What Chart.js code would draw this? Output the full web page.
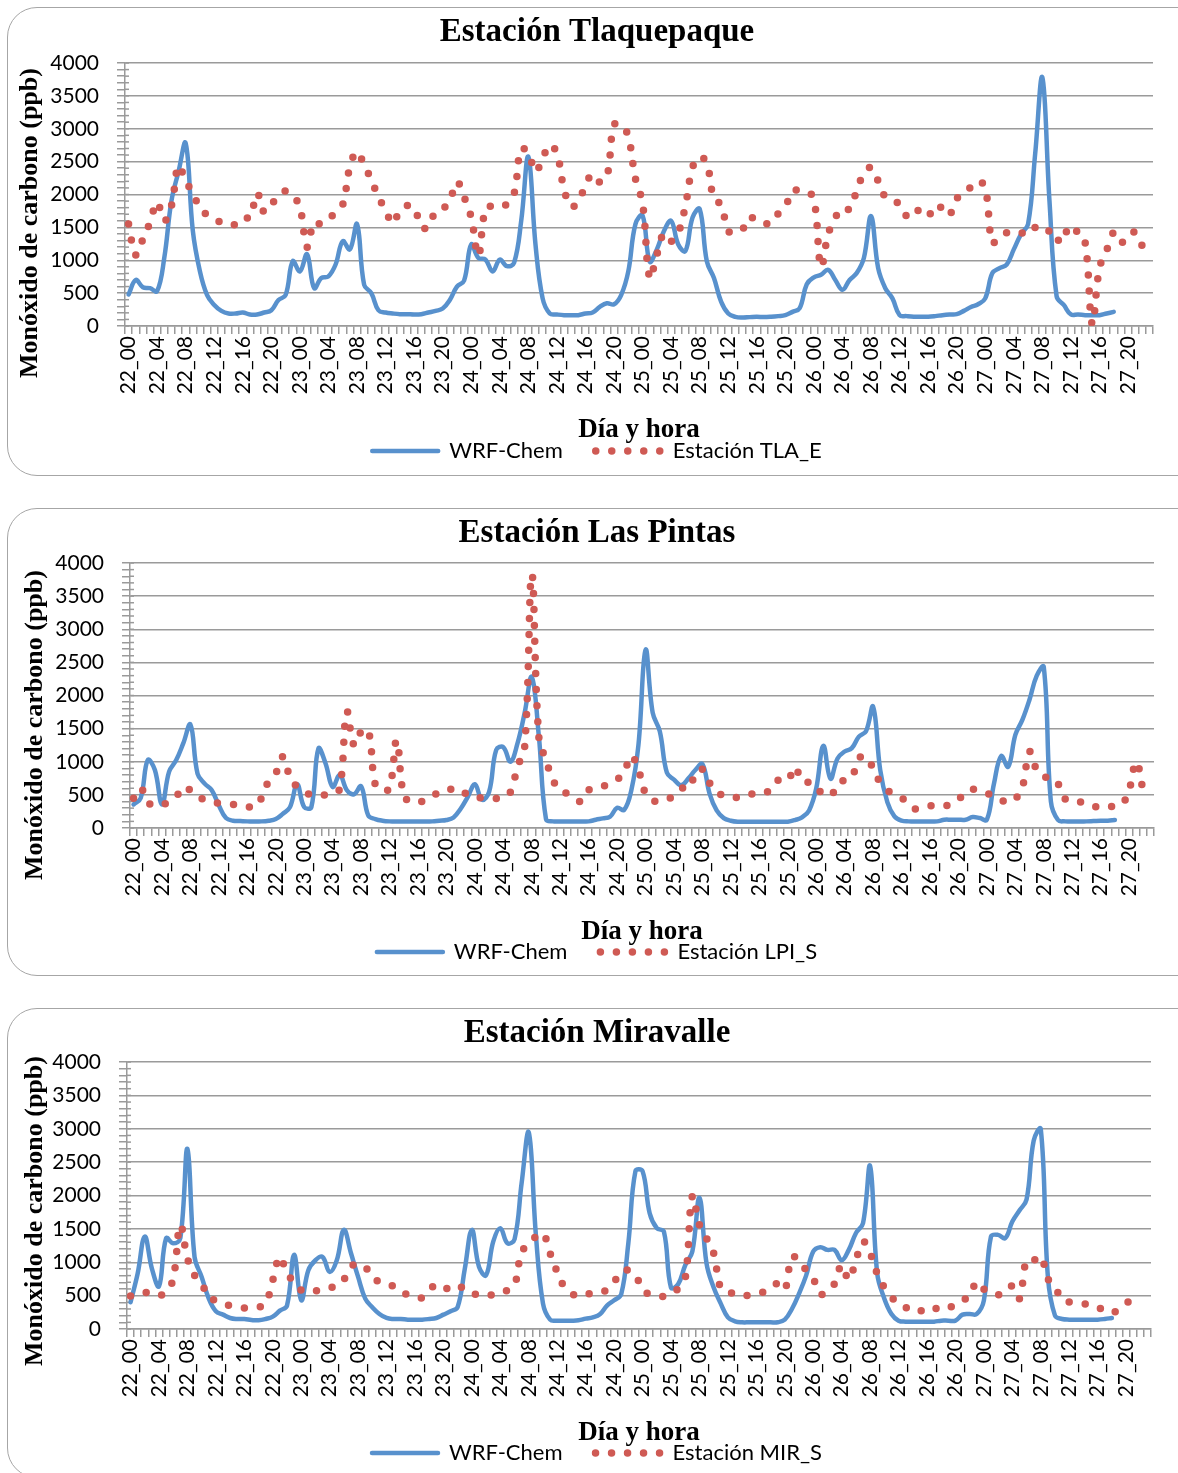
<!DOCTYPE html>
<html>
<head>
<meta charset="utf-8">
<script src="https://cdn.jsdelivr.net/npm/chart.js@4.4.1/dist/chart.umd.min.js"></script>
<style>
  body { margin: 0; background: #fff; width: 1178px; height: 1473px; overflow: hidden; position: relative; }
  .panel { position: absolute; left: 7px; width: 1210px; box-sizing: border-box; border: 1.5px solid #a6a6a6; border-radius: 30px; }
  .wrap { position: absolute; left: 8px; }
</style>
</head>
<body>
<div class="panel" style="top:7px;height:469px"></div>
<div class="panel" style="top:508px;height:468px"></div>
<div class="panel" style="top:1008px;height:470px"></div>
<div class="wrap" style="top:8px"><canvas id="c1" width="1178" height="466"></canvas></div>
<div class="wrap" style="top:509px"><canvas id="c2" width="1178" height="466"></canvas></div>
<div class="wrap" style="top:1009px"><canvas id="c3" width="1178" height="466"></canvas></div>
<script>
// categories: day_hour, 22_00 .. 27_23
var days = ['22', '23', '24', '25', '26', '27'];
var hours = ['00','01','02','03','04','05','06','07','08','09','10','11','12','13','14','15','16','17','18','19','20','21','22','23'];
var categories = [];
days.forEach(function (d) { hours.forEach(function (h) { categories.push(d + '_' + h); }); });

var yTicks = [0, 500, 1000, 1500, 2000, 2500, 3000, 3500, 4000];

// Estación Tlaquepaque
var tlaWrf = [480,700,590,575,530,1035,1900,2350,2780,1450,830,470,320,230,190,190,205,175,175,205,240,395,470,985,
  830,1090,575,730,755,935,1290,1165,1550,625,500,240,205,190,180,180,175,180,205,230,265,395,600,690,
  1240,1035,1010,830,1010,910,960,1600,2575,1240,420,190,175,165,165,165,190,205,290,345,330,470,830,1550,
  1680,980,1165,1445,1600,1240,1140,1650,1780,985,730,370,190,140,130,135,140,135,140,150,165,215,270,635,
  740,780,855,700,550,700,805,1035,1670,880,575,420,165,150,140,140,140,150,165,175,180,230,290,330,
  420,805,880,935,1165,1395,1550,2625,3780,1900,450,320,175,175,165,165,165,190,215];
var tlaSta = [1550,1080,1320,1575,1880,1600,1825,2435,2205,2020,1795,1690,1615,1580,1535,1550,1655,1645,2020,1730,1855,1960,2055,1985,
  1805,1200,1580,1550,1625,1730,1845,2420,2650,2445,2225,1960,1765,1560,1755,1830,1805,1510,1500,1745,1780,1910,2190,1960,
  1650,1070,1785,1830,1865,1845,2010,2700,2625,2345,2550,2755,2625,2085,1815,1895,2140,2310,2190,2265,3060,3060,2880,2240,
  1865,730,1085,1405,1290,1420,1830,2410,2575,2470,1935,1845,1445,1420,1470,1660,1590,1560,1565,1710,1815,2060,2055,2045,
  1935,905,1395,1650,1795,1780,2060,2320,2410,2205,1960,1900,1855,1670,1660,1805,1730,1675,1825,1700,1935,2020,2115,2210,
  2100,1265,1370,1420,1445,1420,1395,1500,1520,1435,1280,1470,1345,1445,1265,25,880,1150,1420,1265,1395,1420,1215];

// Estación Las Pintas
var lpiWrf = [355,450,1025,875,355,850,1025,1280,1560,820,670,570,340,150,110,105,100,100,100,110,135,215,315,660,
  315,315,1200,975,620,800,570,510,630,190,135,110,100,100,100,100,100,100,100,110,120,160,290,470,
  660,425,545,1180,1220,1000,1280,1740,2280,1380,135,100,100,100,100,100,100,125,145,170,305,275,570,1255,
  2690,1740,1460,835,730,645,745,875,965,520,265,150,110,95,95,95,95,95,95,95,95,120,160,265,
  595,1240,745,1050,1155,1205,1380,1460,1830,875,390,175,110,100,100,100,100,100,125,125,125,125,165,150,
  125,670,1085,925,1405,1635,1940,2295,2430,400,120,100,100,100,100,105,110,110,120];
var lpiSta = [450,605,380,355,340,415,475,620,570,480,425,390,375,365,355,340,325,315,455,710,825,1075,770,620,
  545,500,490,500,510,600,1750,1250,1450,1480,650,570,600,1320,480,405,380,425,475,545,575,585,585,495,
  465,455,450,445,465,545,925,1225,3830,1365,1025,720,570,520,455,400,570,610,630,680,730,850,1090,875,
  520,410,415,425,495,570,745,720,885,680,545,490,470,460,495,515,525,535,680,730,715,920,710,685,
  645,490,520,570,745,770,1050,1075,900,685,570,510,455,365,285,315,335,335,330,365,430,545,585,555,
  520,485,425,385,440,620,1150,875,770,770,670,440,395,395,365,325,320,315,335,360,570,1000,545];

// Estación Miravalle
var mirWrf = [400,830,1385,905,640,1360,1285,1360,2700,1080,780,455,265,215,165,150,150,135,130,150,185,275,350,1110,
  430,880,1030,1080,855,1030,1485,1135,780,455,325,225,165,150,150,140,140,140,150,165,215,265,330,900,
  1485,930,805,1310,1510,1285,1345,2190,2945,1410,380,140,125,125,125,130,155,175,220,350,430,520,1285,2365,
  2365,1735,1510,1460,620,670,955,1160,1965,980,620,380,175,115,100,100,100,100,100,100,140,300,530,800,
  1160,1225,1185,1185,1030,1185,1435,1585,2440,830,455,225,125,110,110,110,110,110,125,125,125,215,225,225,
  430,1385,1410,1360,1610,1775,1940,2820,2995,780,200,150,140,140,140,140,140,150,165];
var mirSta = [495,520,550,520,500,555,755,1555,1060,805,680,470,430,380,350,325,315,310,325,380,730,1080,830,705,
  580,550,570,590,620,640,740,930,980,930,780,705,665,640,580,505,480,470,580,665,605,620,660,580,
  525,520,505,515,530,580,655,1160,1260,1385,1435,1135,855,630,530,495,520,540,565,580,705,855,880,805,
  590,520,500,490,530,605,755,1990,1560,1360,1135,605,565,520,500,505,530,555,615,680,590,1080,1030,880,
  755,520,580,680,955,740,1030,1310,1135,830,620,480,380,325,265,265,325,315,285,315,365,430,495,705,
  595,550,510,605,640,455,1030,1030,1090,755,630,440,405,390,380,360,325,275,240,300,380,480];

var blue = '#5891cd';
var red = '#cf5a54';
var gridColor = '#9a9a9a';
var sans = 'Lato';
var serif = 'Liberation Serif';

var axisExtras = {
  id: 'axisExtras',
  beforeDatasetsDraw: function (chart) {
    var y = chart.scales.y, ctx = chart.ctx;
    ctx.save();
    ctx.strokeStyle = gridColor;
    ctx.lineWidth = 1.5;
    for (var v = 0; v <= 4000; v += 100) {
      var py = y.getPixelForValue(v);
      ctx.beginPath();
      ctx.moveTo(y.right, py);
      ctx.lineTo(y.right + 4, py);
      ctx.stroke();
    }
    ctx.restore();
  },
  afterDraw: function (chart, args, opts) {
    var ctx = chart.ctx;
    ctx.save();
    ctx.translate(opts.x, opts.y);
    ctx.rotate(-Math.PI / 2);
    ctx.font = 'bold 26px "' + serif + '"';
    ctx.fillStyle = '#000';
    ctx.textAlign = 'center';
    ctx.textBaseline = 'middle';
    ctx.fillText(opts.text, 0, 0);
    ctx.restore();
  }
};

// legend markers take the line style of their dataset
function legendLabels(chart) {
  var items = Chart.defaults.plugins.legend.labels.generateLabels(chart);
  items.forEach(function (it) {
    var ds = chart.data.datasets[it.datasetIndex];
    it.strokeStyle = ds.borderColor;
    it.lineWidth = ds.borderWidth;
    it.lineDash = ds.borderDash || [];
    it.lineCap = 'round';
    it.pointStyle = 'line';
  });
  return items;
}

function makeChart(id, g) {
  return new Chart(document.getElementById(id), {
    type: 'line',
    data: {
      labels: categories,
      datasets: [{
        label: 'WRF-Chem',
        data: g.wrf,
        borderColor: blue,
        backgroundColor: blue,
        borderWidth: 4.5,
        borderCapStyle: 'round',
        borderJoinStyle: 'round',
        pointRadius: 0,
        tension: 0.4,
        order: 1
      }, {
        label: g.station,
        data: g.sta,
        borderColor: red,
        backgroundColor: red,
        borderWidth: 7.5,
        borderDash: [0, 16],
        borderCapStyle: 'round',
        pointRadius: 0,
        tension: 0.4,
        order: 0
      }]
    },
    options: {
      responsive: false,
      animation: false,
      events: [],
      devicePixelRatio: 1,
      layout: { padding: { left: 0, right: 0, top: 0, bottom: g.padBottom } },
      plugins: {
        tooltip: { enabled: false },
        title: {
          display: true,
          text: g.title,
          color: '#000',
          font: { family: serif, size: 33, weight: 'bold' },
          padding: { top: 4.2, bottom: g.plotTop - 43.8 }
        },
        legend: {
          position: 'bottom',
          labels: {
            usePointStyle: true,
            pointStyle: 'line',
            pointStyleWidth: 66,
            padding: 33,
            color: '#000',
            font: { family: sans, size: 22 },
            generateLabels: legendLabels,
            sort: function (a, b) { return a.datasetIndex - b.datasetIndex; }
          }
        },
        axisExtras: { text: 'Monóxido de carbono (ppb)', x: g.yTitleX, y: g.yTitleY }
      },
      scales: {
        x: {
          type: 'category',
          offset: true,
          grid: { display: true, drawOnChartArea: false, drawTicks: true, tickLength: 8, color: gridColor, lineWidth: 1.5, offset: true },
          border: { display: true, color: gridColor, width: 1.5 },
          ticks: {
            autoSkip: false,
            minRotation: 90,
            maxRotation: 90,
            padding: 2,
            color: '#000',
            font: { family: sans, size: 21 },
            callback: function (val, idx) { return idx % 4 === 0 ? categories[idx] : ''; }
          },
          title: {
            display: true,
            text: 'Día y hora',
            color: '#000',
            font: { family: serif, size: 27, weight: 'bold' },
            padding: { top: 0, bottom: g.xTitlePad }
          },
          afterFit: function (s) { s.height = g.xHeight; }
        },
        y: {
          min: 0,
          max: 4000,
          grid: {
            color: function (c) { return c.tick && c.tick.value % 500 === 0 ? gridColor : 'rgba(0,0,0,0)'; },
            tickColor: gridColor,
            lineWidth: 1.5,
            tickLength: 8
          },
          border: { display: true, color: gridColor, width: 1.5 },
          ticks: {
            stepSize: 100,
            autoSkip: false,
            padding: 18,
            color: '#000',
            font: { family: sans, size: 21 },
            callback: function (v) { return yTicks.indexOf(v) >= 0 ? String(v) : ''; }
          },
          afterFit: function (s) { s.width = g.plotLeft; }
        },
        yRight: {
          position: 'right',
          display: true,
          grid: { display: false, drawTicks: false },
          border: { display: false },
          ticks: { display: false },
          afterFit: function (s) { s.width = 1178 - g.plotRight; }
        }
      }
    },
    plugins: [axisExtras]
  });
}

makeChart('c1', {
  title: 'Estación Tlaquepaque', station: 'Estación TLA_E', wrf: tlaWrf, sta: tlaSta,
  plotLeft: 117, plotRight: 1145, plotTop: 55, padBottom: 2, xHeight: 81, xTitlePad: -39.2,
  yTitleX: 22, yTitleY: 215
});
makeChart('c2', {
  title: 'Estación Las Pintas', station: 'Estación LPI_S', wrf: lpiWrf, sta: lpiSta,
  plotLeft: 122, plotRight: 1146, plotTop: 54, padBottom: 2, xHeight: 80, xTitlePad: -40.2,
  yTitleX: 27, yTitleY: 216
});
makeChart('c3', {
  title: 'Estación Miravalle', station: 'Estación MIR_S', wrf: mirWrf, sta: mirSta,
  plotLeft: 119, plotRight: 1143, plotTop: 53, padBottom: 1, xHeight: 80, xTitlePad: -40.2,
  yTitleX: 27, yTitleY: 202
});
</script>
</body>
</html>
